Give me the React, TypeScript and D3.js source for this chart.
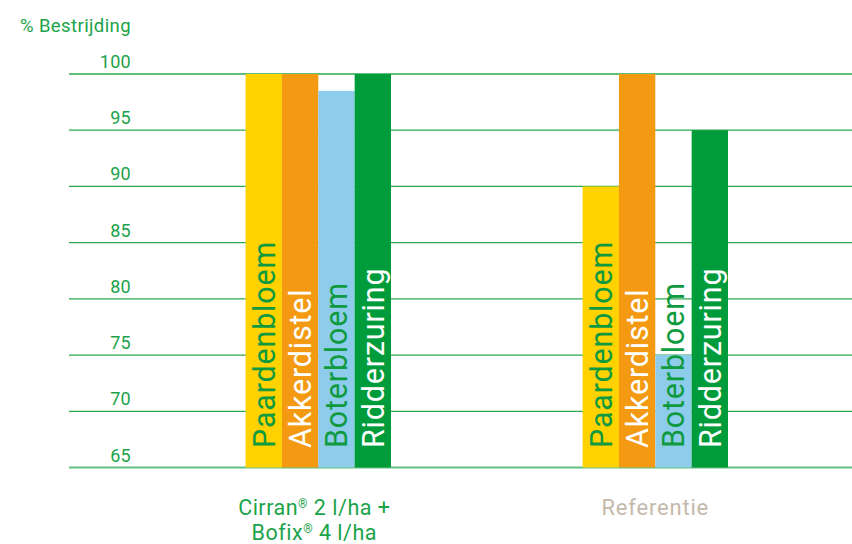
import { useEffect, useRef } from "react";
import * as d3 from "d3";

// data
const groups = ["cirran", "referentie"];
const weeds = ["Paardenbloem", "Akkerdistel", "Boterbloem", "Ridderzuring"];
const cirranValues = [100, 100, 98.5, 100];
const referentieValues = [90, 100, 75, 95];
const yTicks = [65, 70, 75, 80, 85, 90, 95, 100];

const barColors = ["#FFD200", "#F39A12", "#8DCDEB", "#009B3A"];
const labelColors = ["#109A3F", "#FFFFFF", "#109A3F", "#FFFFFF"];
const GREEN = "#1BA34A";
const FONT = "Roboto, 'DejaVu Sans', sans-serif";

export default function App() {
  const ref = useRef<SVGSVGElement | null>(null);

  useEffect(() => {
    const W = 852;
    const H = 544;
    const svg = d3.select(ref.current);
    svg.selectAll("*").remove();
    svg.attr("width", W).attr("height", H);

    const y = d3.scaleLinear().domain([65, 100]).range([467.5, 74]);

    const outer = d3.scaleBand().domain(groups).range([149.8, 149.8 + 2 * 337]).padding(0);
    const inner = d3.scaleBand().domain(weeds).range([-72.7, 72.7]).padding(0);

    // gridlines
    svg.append("g")
      .selectAll("line")
      .data(yTicks.filter(t => t !== 65))
      .join("line")
      .attr("x1", 69)
      .attr("x2", W)
      .attr("y1", d => y(d))
      .attr("y2", d => y(d))
      .attr("stroke", "#2EA84E")
      .attr("stroke-width", 1.3);

    // bottom line
    svg.append("line")
      .attr("x1", 69)
      .attr("x2", W)
      .attr("y1", y(65))
      .attr("y2", y(65))
      .attr("stroke", "#62C083")
      .attr("stroke-width", 2);

    // tick labels
    svg.append("g")
      .selectAll("text")
      .data(yTicks)
      .join("text")
      .attr("x", 131)
      .attr("y", d => y(d) - 6)
      .attr("text-anchor", "end")
      .attr("fill", GREEN)
      .attr("font-family", FONT)
      .attr("font-size", 18)
      .attr("letter-spacing", 0.3)
      .text(d => d);

    svg.append("text")
      .attr("x", 20)
      .attr("y", 32)
      .attr("fill", GREEN)
      .attr("font-family", FONT)
      .attr("font-size", 18.5)
      .attr("letter-spacing", 0.4)
      .text("% Bestrijding");

    const series = [cirranValues, referentieValues];
    series.forEach((vals, gi) => {
      const cx = (outer(groups[gi]) ?? 0) + outer.bandwidth() / 2;
      const g = svg.append("g").attr("transform", `translate(${cx},0)`);
      const data = weeds.map((w, i) => ({ w, v: vals[i], i }));

      g.selectAll("rect")
        .data(data)
        .join("rect")
        .attr("x", d => inner(d.w) ?? 0)
        .attr("width", inner.bandwidth())
        .attr("y", d => y(d.v))
        .attr("height", d => y(65) - y(d.v))
        .attr("fill", d => barColors[d.i]);

      g.selectAll("text")
        .data(data)
        .join("text")
        .attr("transform", d => `translate(${(inner(d.w) ?? 0) + 29},${y(65) - 19.5}) rotate(-90)`)
        .attr("fill", d => labelColors[d.i])
        .attr("font-family", FONT)
        .attr("font-size", 30.5)
        .attr("letter-spacing", 0.8)
        .text(d => d.w);
    });

    // category labels
    const c1 = (outer("cirran") ?? 0) + outer.bandwidth() / 2;
    const c2 = (outer("referentie") ?? 0) + outer.bandwidth() / 2;

    const lines = [
      { name: "Cirran", rest: " 2 l/ha +", y: 514.5 },
      { name: "Bofix", rest: " 4 l/ha", y: 540 },
    ];
    lines.forEach(l => {
      const t = svg.append("text")
        .attr("x", c1 - 4)
        .attr("y", l.y)
        .attr("text-anchor", "middle")
        .attr("fill", GREEN)
        .attr("font-family", FONT)
        .attr("font-size", 21.5)
        .attr("letter-spacing", 0.5);
      t.append("tspan").text(l.name);
      t.append("tspan").attr("font-size", 12).attr("dy", -7).text("®");
      t.append("tspan").attr("dy", 7).text(l.rest);
    });

    svg.append("text")
      .attr("x", c2)
      .attr("y", 514.5)
      .attr("text-anchor", "middle")
      .attr("fill", "#C5B9AB")
      .attr("font-family", FONT)
      .attr("font-size", 22)
      .attr("letter-spacing", 0.8)
      .text("Referentie");
  }, []);

  return (
    <svg
      ref={ref}
      style={{ position: "absolute", left: 0, top: 0, background: "#fff" }}
    />
  );
}
